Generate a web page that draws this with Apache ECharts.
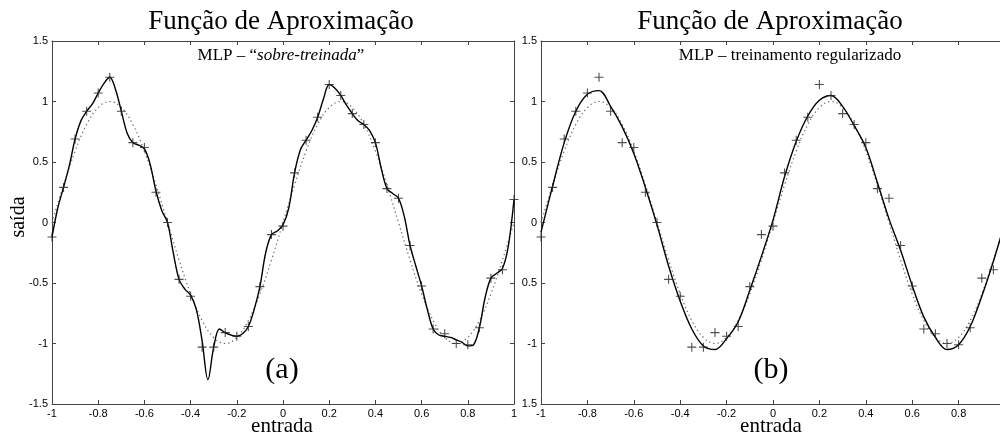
<!DOCTYPE html>
<html>
<head>
<meta charset="utf-8">
<script src="https://cdn.jsdelivr.net/npm/echarts@6/dist/echarts.min.js"></script>
<style>
  html, body { margin: 0; padding: 0; background: #fff; }
  #chart-container { width: 1000px; height: 437px; }
</style>
</head>
<body>
<div id="chart-container"></div>
<script>
// training samples (the "+" marks)
var xTrain = [-1, -0.95, -0.9, -0.85, -0.8, -0.75, -0.7, -0.65, -0.6, -0.55, -0.5,
  -0.45, -0.4, -0.35, -0.3, -0.25, -0.2, -0.15, -0.1, -0.05, 0,
  0.05, 0.1, 0.15, 0.2, 0.25, 0.3, 0.35, 0.4, 0.45, 0.5,
  0.55, 0.6, 0.65, 0.7, 0.75, 0.8, 0.85, 0.9, 0.95, 1];
var yTrain = [-0.12, 0.29, 0.69, 0.92, 1.07, 1.20, 0.92, 0.66, 0.62, 0.25, 0.00,
  -0.47, -0.61, -1.03, -1.03, -0.91, -0.94, -0.86, -0.53, -0.10, -0.03,
  0.41, 0.68, 0.87, 1.14, 1.05, 0.90, 0.81, 0.66, 0.28, 0.20,
  -0.19, -0.525, -0.88, -0.92, -1.00, -1.01, -0.87, -0.46, -0.39, 0.19];

// target function (dotted), same x as the training samples
var yTarget = [0, 0.31, 0.59, 0.81, 0.95, 1.0, 0.95, 0.81, 0.59, 0.31, 0,
  -0.31, -0.59, -0.81, -0.95, -1.0, -0.95, -0.81, -0.59, -0.31, 0,
  0.31, 0.59, 0.81, 0.95, 1.0, 0.95, 0.81, 0.59, 0.31, 0,
  -0.31, -0.59, -0.81, -0.95, -1.0, -0.95, -0.81, -0.59, -0.31, 0];

// (a) over-trained MLP output, step 0.025
var xOver = [];
for (var i = 0; i <= 80; i++) xOver.push(-1 + i * 0.025);
var yOver = [-0.12, 0.12, 0.29, 0.47, 0.69, 0.84, 0.92, 0.98, 1.07, 1.15,
  1.20, 1.10, 0.92, 0.74, 0.66, 0.64, 0.61, 0.48, 0.26, 0.10,
  0.00, -0.25, -0.47, -0.55, -0.60, -0.72, -0.98, -1.30, -1.03, -0.88,
  -0.91, -0.93, -0.94, -0.92, -0.86, -0.72, -0.53, -0.25, -0.10, -0.07,
  -0.02, 0.12, 0.41, 0.60, 0.68, 0.76, 0.87, 1.02, 1.14, 1.11,
  1.05, 0.97, 0.90, 0.84, 0.81, 0.76, 0.66, 0.45, 0.28, 0.24,
  0.20, 0.05, -0.19, -0.36, -0.525, -0.72, -0.88, -0.93, -0.94, -0.95,
  -0.97, -0.99, -1.02, -1.01, -0.87, -0.62, -0.46, -0.42, -0.38, -0.20,
  0.19];

// (b) regularized MLP output, same x as the training samples
var yReg = [-0.08, 0.30, 0.66, 0.92, 1.06, 1.09, 0.96, 0.79, 0.57, 0.29, -0.02,
  -0.36, -0.65, -0.88, -1.02, -1.05, -0.96, -0.82, -0.56, -0.28, 0.02,
  0.38, 0.67, 0.88, 1.01, 1.05, 0.96, 0.80, 0.62, 0.33, 0.03,
  -0.23, -0.52, -0.78, -0.95, -1.05, -1.01, -0.86, -0.61, -0.32, 0.00];

function pairs(xs, ys) {
  return xs.map(function (x, k) { return [x, ys[k]]; });
}

var chartDom = document.getElementById("chart-container");
var myChart = echarts.init(chartDom, null, { renderer: "canvas" });

var axisColor = "#444";
var labelFont = { fontFamily: "Liberation Sans", fontSize: 11, color: "#000" };
var plusMark = "path://M4.4,0h1.2v4.4h4.4v1.2h-4.4v4.4h-1.2v-4.4h-4.4v-1.2h4.4z";
var serif = "Liberation Serif";

function xAx(grid, top) {
  return {
    type: "value", gridIndex: grid, min: -1, max: 1, interval: 0.2,
    position: top ? "top" : "bottom",
    axisLine: { show: true, onZero: false, lineStyle: { color: axisColor, width: 1 } },
    axisTick: { show: true, inside: true, length: 4, lineStyle: { color: axisColor } },
    axisLabel: Object.assign({ show: !top, margin: 4 }, labelFont),
    splitLine: { show: false }
  };
}
function yAx(grid, right, fmt) {
  return {
    type: "value", gridIndex: grid, min: -1.5, max: 1.5, interval: 0.5,
    position: right ? "right" : "left",
    axisLine: { show: true, onZero: false, lineStyle: { color: axisColor, width: 1 } },
    axisTick: { show: true, inside: true, length: 4, lineStyle: { color: axisColor } },
    axisLabel: Object.assign({ show: !right, margin: 4, formatter: fmt }, labelFont),
    splitLine: { show: false }
  };
}

// right panel: the minus of -0.5 / -1.5 is hidden behind the left panel in the original
function clippedFmt(v) {
  if (v === -0.5 || v === -1.5) return String(-v);
  return String(v);
}

function curve(name, data, x, y) {
  return {
    name: name, type: "line", xAxisIndex: x, yAxisIndex: y, data: data,
    showSymbol: false, smooth: 0.35, z: 3,
    lineStyle: { color: "#000", width: 1.4 }
  };
}
function dotted(data, x, y) {
  return {
    type: "line", xAxisIndex: x, yAxisIndex: y, data: data,
    showSymbol: false, smooth: 0.4, z: 2,
    lineStyle: { color: "#666", width: 1.2, type: [1.3, 3] }
  };
}
function marks(data, x, y) {
  return {
    type: "scatter", xAxisIndex: x, yAxisIndex: y, data: data,
    symbol: plusMark, symbolSize: 9, z: 4,
    itemStyle: { color: "#222" }
  };
}

function txt(x, y, text, size, extra) {
  return Object.assign({
    type: "text", x: x, y: y,
    style: { text: text, font: size + "px " + serif, fill: "#000", align: "center", verticalAlign: "middle" }
  }, extra || {});
}

var option = {
  animation: false,
  backgroundColor: "#fff",
  grid: [
    { left: 52, width: 462, top: 41, bottom: 33, outerBoundsMode: "none", containLabel: false },
    { left: 541, width: 464, top: 41, bottom: 33, outerBoundsMode: "none", containLabel: false }
  ],
  xAxis: [xAx(0, false), xAx(0, true), xAx(1, false), xAx(1, true)],
  yAxis: [yAx(0, false), yAx(0, true), yAx(1, false, clippedFmt), yAx(1, true)],
  series: [
    dotted(pairs(xTrain, yTarget), 0, 0),
    curve("sobre-treinada", pairs(xOver, yOver), 0, 0),
    marks(pairs(xTrain, yTrain), 0, 0),
    dotted(pairs(xTrain, yTarget), 2, 2),
    curve("regularizado", pairs(xTrain, yReg), 2, 2),
    marks(pairs(xTrain, yTrain), 2, 2)
  ],
  graphic: [
    txt(281, 22, "Função de Aproximação", 27),
    txt(770, 22, "Função de Aproximação", 27),
    { type: "text", x: 281, y: 56, style: {
        text: "{n|MLP – “}{i|sobre-treinada}{n|”}", align: "center", verticalAlign: "middle",
        rich: { n: { fontFamily: serif, fontSize: 17, fill: "#000" }, i: { fontFamily: serif, fontSize: 17, fontStyle: "italic", fill: "#000" } } } },
    txt(790, 56, "MLP – treinamento regularizado", 17),
    txt(282, 370, "(a)", 30),
    txt(771, 370, "(b)", 30),
    txt(19, 217, "saída", 20, { rotation: Math.PI / 2 }),
    txt(282, 426, "entrada", 21),
    txt(771, 426, "entrada", 21)
  ]
};

myChart.setOption(option);
</script>
</body>
</html>
